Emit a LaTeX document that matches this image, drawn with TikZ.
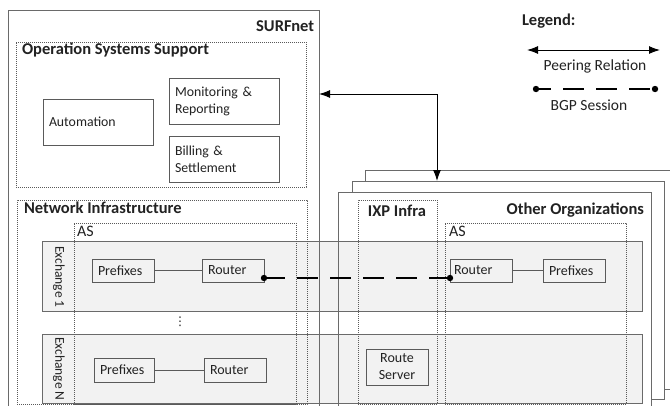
\documentclass[tikz,border=0pt]{standalone}
\usepackage{fontspec}
\setmainfont{Carlito}
\newfontfamily\symfont{DejaVu Sans}
\usetikzlibrary{arrows.meta}
\definecolor{lc}{HTML}{6A6A6A}
\definecolor{dc}{HTML}{5A5A5A}
\definecolor{bandc}{HTML}{F2F2F2}
\definecolor{tc}{HTML}{222222}
\begin{document}
\begin{tikzpicture}[x=1bp,y=-1bp,
  every node/.style={text=tc, font=\fontsize{14bp}{17bp}\selectfont, inner sep=0pt, outer sep=0pt},
  frame/.style={draw=lc, line width=1bp, anchor=north west},
  dotbox/.style={draw=dc, line width=0.9bp, dash pattern=on 0.9bp off 1.1bp, anchor=north west},
  band/.style={draw=lc, fill=bandc, line width=1bp, anchor=north west},
  item/.style={draw=dc, line width=1bp, anchor=north west, align=left, inner xsep=6bp, inner ysep=0pt},
  title/.style={font=\bfseries\fontsize{16.5bp}{18bp}\selectfont},
  legtext/.style={font=\fontsize{15.5bp}{18bp}\selectfont},
  astext/.style={font=\fontsize{16bp}{18bp}\selectfont, anchor=west},
  extext/.style={rotate=-90, font=\fontsize{13.5bp}{15bp}\selectfont},
  osstext/.style={font=\fontsize{13.8bp}{17bp}\selectfont},
  conn/.style={draw=dc, line width=1bp},
  peer/.style={draw=black, line width=1bp, {Latex[length=11bp,width=8bp]}-{Latex[length=11bp,width=8bp]}},
  bgp/.style={draw=black, line width=1.4bp, dash pattern=on 21bp off 12bp},
  bgpdot/.style={fill=black}
]
\clip (0,0) rectangle (670,405);
\fill[white] (0,0) rectangle (670,405);

% other organizations stack
\node[frame, fill=white, minimum width=330bp, minimum height=219bp] (org3) at (365,170) {};
\node[frame, fill=white, minimum width=312bp, minimum height=218bp] (org2) at (352,181) {};
\node[frame, fill=white, minimum width=313bp, minimum height=225bp] (org1) at (338,192) {};

% exchange bands
\node[band, minimum width=600bp, minimum height=70bp] (ex1) at (42,241) {};
\node[band, minimum width=600bp, minimum height=69bp] (exN) at (42,334) {};

% outer frames on top
\node[frame, minimum width=311bp, minimum height=410bp] (surf) at (8,10) {};
\draw[draw=lc, line width=1bp] (org1.north west) rectangle (org1.south east);

% dotted groups
\node[dotbox, minimum width=290bp, minimum height=145bp] (oss) at (16,42) {};
\node[dotbox, minimum width=290bp, minimum height=204bp] (ni) at (17,200) {};
\node[dotbox, minimum width=222bp, minimum height=181bp] (asL) at (74,223) {};
\node[dotbox, minimum width=79bp, minimum height=204bp] (ixp) at (358,200) {};
\node[dotbox, minimum width=181bp, minimum height=181bp] (asR) at (445,223) {};

% titles
\node[title, anchor=east] (tSurf) at (314,26) {SURFnet};
\node[title, anchor=west] (tOss) at (22,50) {Operation Systems Support};
\node[title, anchor=west] (tNi) at (24,208) {Network Infrastructure};
\node[title] (tIxp) at (397,211) {IXP Infra};
\node[title, anchor=east] (tOrg) at (644,210) {Other Organizations};
\node[astext] (tAsL) at (77,231) {AS};
\node[astext] (tAsR) at (449,231) {AS};
\node[extext] (tEx1) at (59,277) {Exchange 1};
\node[extext] (tExN) at (59,369) {Exchange N};
\node[font=\symfont\fontsize{12bp}{14bp}\selectfont] (vd) at (180,322) {⋮};

% OSS items
\node[item, osstext, text width=98bp, minimum height=46bp] (auto) at (43,99) {Automation};
\node[item, osstext, text width=98bp, minimum height=46bp] (mon) at (169,78) {Monitoring \&\\Reporting};
\node[item, osstext, text width=98bp, minimum height=46bp] (bill) at (169,136) {Billing \&\\Settlement};

% exchange items
\node[item, text width=50bp, minimum height=23bp] (p1) at (92,259) {Prefixes};
\node[item, text width=50bp, minimum height=23bp] (r1) at (202,259) {Router};
\node[item, text width=48bp, minimum height=24bp] (pN) at (94,358) {Prefixes};
\node[item, text width=50bp, minimum height=24bp] (rN) at (204,358) {Router};
\node[item, minimum height=23bp, inner xsep=4bp, text width=54bp] (rR) at (450,259) {Router};
\node[item, text width=50bp, minimum height=23bp] (pR) at (543,259) {Prefixes};
\node[item, text width=62bp, inner xsep=0pt, align=center, minimum height=36bp] (rs) at (366,349) {Route\\Server};

% connectors
\draw[conn] (p1) -- (r1);
\draw[conn] (pN) -- (rN);
\draw[conn] (rR) -- (pR);

\coordinate (b1) at ([yshift=-7.5bp]r1.east);
\coordinate (b2) at ([yshift=-7.5bp]rR.west);
\draw[bgp] (b1) -- (b2);
\fill[bgpdot] (b1) circle (3.2bp);
\fill[bgpdot] (b2) circle (3.2bp);

\coordinate (pa) at (437,94);
\draw[peer] (surf.east |- pa) -- (pa) -- (pa |- org2.north);

% legend
\node[title, anchor=west] (tLeg) at (522,21) {Legend:};
\coordinate (la) at (527,50);
\coordinate (lb) at (660,50);
\draw[peer] (la) -- (lb);
\node[legtext] (tPeer) at (595,66) {Peering Relation};
\coordinate (lc1) at (536,89);
\coordinate (lc2) at (655,89);
\draw[bgp, dash phase=6bp] (lc1) -- (lc2);
\fill[bgpdot] (lc1) circle (3.2bp);
\fill[bgpdot] (lc2) circle (3.2bp);
\node[legtext] (tBgp) at (589,105) {BGP Session};
\end{tikzpicture}
\end{document}
